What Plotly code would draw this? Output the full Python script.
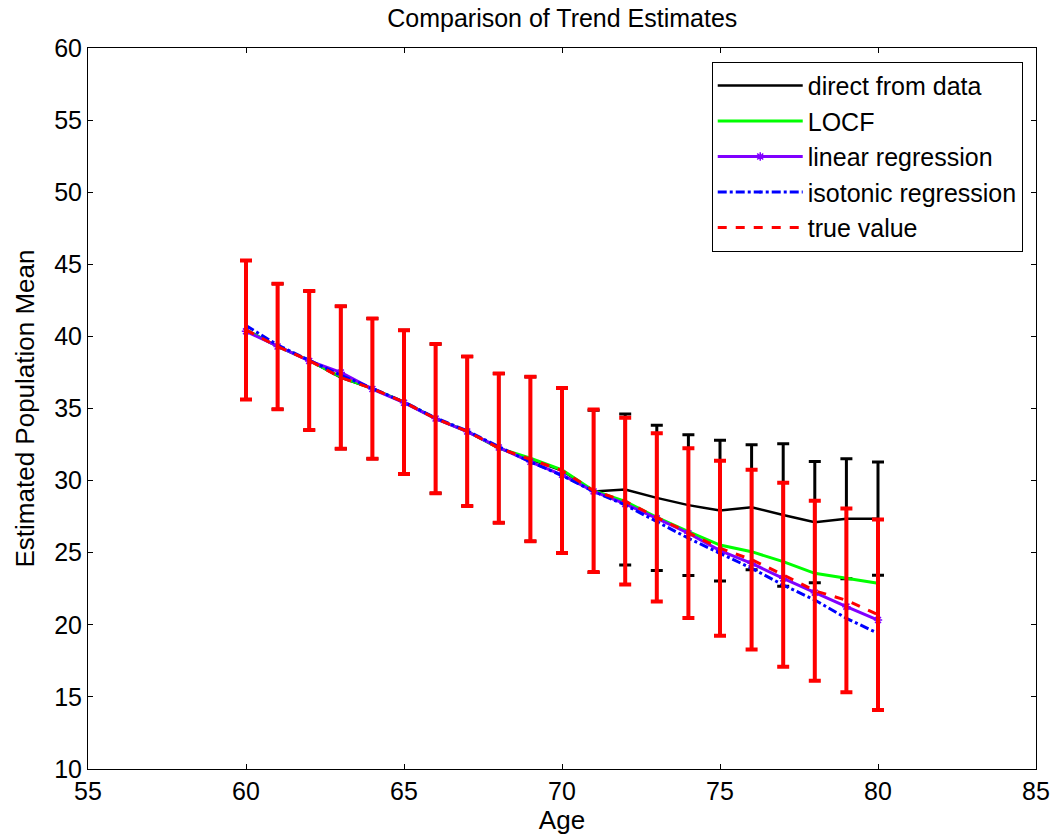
import plotly.graph_objects as go

ages = list(range(60, 81))

direct_mean = [40.45, 39.3, 38.33, 37.15, 36.38, 35.44, 34.3, 33.42, 32.25, 31.5, 30.7,
               29.25, 29.38, 28.8, 28.3, 27.92, 28.15, 27.62, 27.12, 27.36, 27.36]
direct_err = [4.82, 4.35, 4.82, 4.94, 4.87, 4.98, 5.18, 5.18, 5.18, 5.7, 5.72,
              5.63, 5.23, 5.04, 4.88, 4.88, 4.33, 4.94, 4.2, 4.16, 3.93]

locf_mean = [40.45, 39.3, 38.33, 37.2, 36.38, 35.44, 34.3, 33.42, 32.25, 31.55, 30.75,
             29.3, 28.55, 27.45, 26.46, 25.53, 25.07, 24.38, 23.57, 23.22, 22.88]

linreg_mean = [40.35, 39.3, 38.3, 37.5, 36.35, 35.4, 34.3, 33.4, 32.3, 31.3, 30.4,
               29.25, 28.38, 27.38, 26.35, 25.14, 24.26, 23.22, 22.23, 21.26, 20.33]

iso_mean = [40.75, 39.4, 38.35, 37.3, 36.4, 35.45, 34.35, 33.45, 32.35, 31.3, 30.35,
            29.25, 28.31, 27.15, 26.0, 24.96, 23.92, 22.76, 21.72, 20.45, 19.41]

true_mean = [40.45, 39.3, 38.33, 37.15, 36.38, 35.44, 34.3, 33.42, 32.25, 31.5, 30.7,
             29.3, 28.57, 27.45, 26.36, 25.31, 24.52, 23.47, 22.36, 21.7, 20.7]
true_err = [4.82, 4.35, 4.82, 4.94, 4.87, 4.98, 5.18, 5.18, 5.18, 5.7, 5.72,
            5.63, 5.78, 5.83, 5.89, 6.07, 6.24, 6.38, 6.24, 6.37, 6.6]

x_ticks = [55, 60, 65, 70, 75, 80, 85]
y_ticks = [10, 15, 20, 25, 30, 35, 40, 45, 50, 55, 60]

FONT = "Liberation Sans, Arial, sans-serif"

fig = go.Figure()

fig.add_trace(go.Scatter(
    x=ages, y=direct_mean, mode="lines", name="direct from data",
    line=dict(color="black", width=2.5),
    error_y=dict(type="data", array=direct_err, visible=True, color="black",
                 thickness=3, width=6),
))
fig.add_trace(go.Scatter(
    x=ages, y=locf_mean, mode="lines", name="LOCF",
    line=dict(color="#00FF00", width=3),
))
fig.add_trace(go.Scatter(
    x=ages, y=linreg_mean, mode="lines+markers", name="linear regression",
    line=dict(color="#8000FF", width=3),
    marker=dict(symbol="asterisk-open", size=7, color="#8000FF",
                line=dict(color="#8000FF", width=1.5)),
))
fig.add_trace(go.Scatter(
    x=ages, y=iso_mean, mode="lines+markers", name="isotonic regression",
    line=dict(color="#0000FF", width=3, dash="dashdot"),
    marker=dict(symbol="circle", size=3, color="#0000FF"),
))
fig.add_trace(go.Scatter(
    x=ages, y=true_mean, mode="lines", name="true value",
    line=dict(color="#FF0000", width=3, dash="dash"),
    error_y=dict(type="data", array=true_err, visible=True, color="#FF0000",
                 thickness=4, width=6),
))

axis_common = dict(
    showgrid=False, zeroline=False, showline=True, linecolor="black",
    linewidth=1, mirror="ticks", ticks="inside", ticklen=5, tickcolor="black",
    tickfont=dict(family=FONT, size=25, color="black"),
    automargin=False,
)

fig.update_layout(
    width=1053, height=839,
    margin=dict(l=88, r=17, t=48, b=70),
    paper_bgcolor="white", plot_bgcolor="white",
    title=dict(text="Comparison of Trend Estimates", x=0.534, xanchor="center",
               y=0.978, yanchor="middle", automargin=False,
               font=dict(family=FONT, size=25, color="black")),
    xaxis=dict(range=[55, 85], tickvals=x_ticks,
               title=dict(text="Age", font=dict(family=FONT, size=26, color="black"),
                          standoff=6),
               **axis_common),
    yaxis=dict(range=[10, 60], tickvals=y_ticks,
               title=dict(text="Estimated Population Mean",
                          font=dict(family=FONT, size=26, color="black"),
                          standoff=12),
               **axis_common),
    legend=dict(x=0.986, y=0.981, xanchor="right", yanchor="top",
                bgcolor="white", bordercolor="black", borderwidth=1,
                font=dict(family=FONT, size=25, color="black"),
                itemwidth=85, tracegroupgap=0),
    showlegend=True,
)

fig.write_html("out.html")
